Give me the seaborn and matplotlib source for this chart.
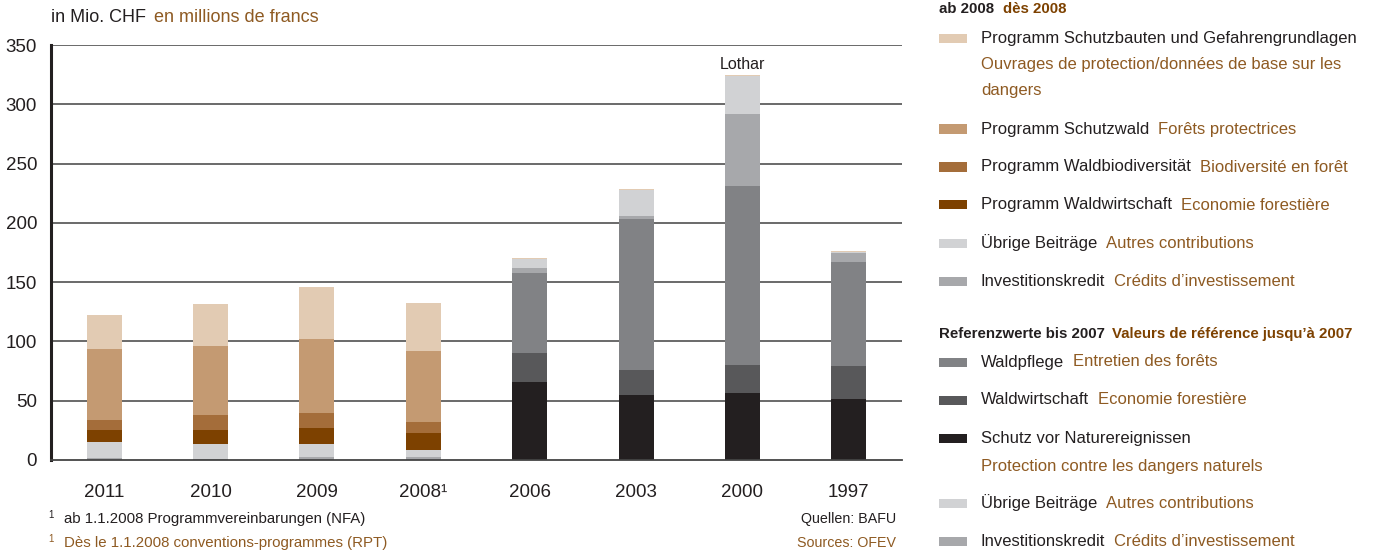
import matplotlib

matplotlib.use("Agg")
import matplotlib.pyplot as plt
import numpy as np
import pandas as pd
import seaborn as sns
from matplotlib.patches import Rectangle

# Daten (Mio. CHF), Stapelreihenfolge von unten nach oben
jahre = ["2011", "2010", "2009", "2008¹", "2006", "2003", "2000", "1997"]

schutz_naturereignisse = [0, 0, 0, 0, 65.8, 54.8, 56.5, 51.4]
waldwirtschaft_alt = [0, 0, 0, 0, 24.4, 21.1, 23.6, 27.9]
waldpflege = [0, 0, 0, 0, 67.5, 127.3, 150.9, 87.6]
investitionskredit = [1.7, 0.5, 2.5, 2.5, 4.2, 2.8, 60.7, 7.9]
uebrige_beitraege = [13.5, 13.0, 11.0, 5.9, 7.3, 21.4, 31.8, 0.8]
prog_waldwirtschaft = [10.1, 11.8, 13.5, 14.4, 0, 0, 0, 0]
prog_biodiversitaet = [8.4, 12.6, 12.6, 9.2, 0, 0, 0, 0]
prog_schutzwald = [59.9, 58.2, 62.4, 59.9, 0, 0, 0, 0]
prog_schutzbauten = [28.7, 35.4, 43.9, 40.5, 0.9, 0.9, 0.9, 0.9]

DUNKEL = "#231F20"
BRAUN = "#8E5A22"
BRAUN_FETT = "#7D4100"

FARBEN = {
    "schutz": "#231F20",
    "ww_alt": "#58585A",
    "pflege": "#818285",
    "invest": "#A7A8AB",
    "uebrig": "#D1D2D4",
    "p_ww": "#7D4100",
    "p_bio": "#A46D3A",
    "p_sw": "#C49A72",
    "p_sb": "#E2CBB3",
}

ebenen = [
    ("schutz", schutz_naturereignisse),
    ("ww_alt", waldwirtschaft_alt),
    ("pflege", waldpflege),
    ("invest", investitionskredit),
    ("uebrig", uebrige_beitraege),
    ("p_ww", prog_waldwirtschaft),
    ("p_bio", prog_biodiversitaet),
    ("p_sw", prog_schutzwald),
    ("p_sb", prog_schutzbauten),
]

sns.set_theme(style="white")
SCHRIFT = ["Liberation Sans Narrow", "Liberation Sans", "DejaVu Sans"]
plt.rcParams["font.family"] = SCHRIFT

W, H = 1384, 555
fig = plt.figure(figsize=(W / 100, H / 100), dpi=100)
ax = fig.add_axes([51 / W, 1 - 460 / H, (902 - 51) / W, (460 - 45) / H])

basis = np.zeros(len(jahre))
for schluessel, werte in ebenen:
    df = pd.DataFrame({"jahr": jahre, "wert": werte})
    sns.barplot(
        data=df, x="jahr", y="wert", order=jahre, color=FARBEN[schluessel],
        saturation=1, width=0.33, errorbar=None, bottom=basis.copy(),
        linewidth=0, ax=ax,
    )
    basis += np.array(werte)

ax.set_xlim(-0.5, 7.5)
ax.set_ylim(0, 350)
ax.set_yticks(range(0, 351, 50))
for y in range(50, 351, 50):
    ax.axhline(y, color="#505050", lw=1.2, zorder=0)
ax.set_axisbelow(True)
for s in ["top", "right"]:
    ax.spines[s].set_visible(False)
ax.spines["left"].set_color(DUNKEL)
ax.spines["left"].set_linewidth(2.2)
ax.spines["bottom"].set_color("#444444")
ax.spines["bottom"].set_linewidth(1.3)
ax.tick_params(axis="y", length=0, pad=10, labelsize=13.5, colors=DUNKEL)
ax.tick_params(axis="x", length=0, pad=17, labelsize=13.5, colors=DUNKEL)
ax.set_xlabel("")
ax.set_ylabel("")

ax.text(6, 327, "Lothar", ha="center", va="bottom", fontsize=11.5, color=DUNKEL)

renderer = fig.canvas.get_renderer()


def zweisprachig(x_px, y_px, de, fr, groesse, fett=False, abstand=9):
    """Deutscher Text dunkel, franzoesischer Text braun direkt dahinter."""
    gewicht = "bold" if fett else "normal"
    t1 = fig.text(x_px / W, 1 - y_px / H, de, fontsize=groesse, color=DUNKEL,
                  weight=gewicht, va="center", ha="left")
    if fr:
        bb = t1.get_window_extent(renderer)
        fig.text((bb.x1 + abstand) / W, 1 - y_px / H, fr, fontsize=groesse,
                 color=BRAUN_FETT if fett else BRAUN, weight=gewicht,
                 va="center", ha="left")


zweisprachig(51, 18, "in Mio. CHF", "en millions de francs", 13, abstand=8)


# Legende
def kaestchen(y_px, farbe):
    fig.add_artist(Rectangle((939 / W, 1 - (y_px + 4.5) / H), 28 / W, 9 / H,
                             transform=fig.transFigure, color=farbe, lw=0))


TX = 981
zweisprachig(939, 9, "ab 2008", "dès 2008", 10.8, fett=True)
kaestchen(38, FARBEN["p_sb"])
zweisprachig(TX, 38, "Programm Schutzbauten und Gefahrengrundlagen", None, 12)
fig.text(TX / W, 1 - 65 / H, "Ouvrages de protection/données de base sur les",
         fontsize=12, color=BRAUN, va="center")
fig.text(TX / W, 1 - 91 / H, "dangers", fontsize=12, color=BRAUN, va="center")
kaestchen(129, FARBEN["p_sw"])
zweisprachig(TX, 129, "Programm Schutzwald", "Forêts protectrices", 12)
kaestchen(167, FARBEN["p_bio"])
zweisprachig(TX, 167, "Programm Waldbiodiversität", "Biodiversité en forêt", 12)
kaestchen(205, FARBEN["p_ww"])
zweisprachig(TX, 205, "Programm Waldwirtschaft", "Economie forestière", 12)
kaestchen(243, FARBEN["uebrig"])
zweisprachig(TX, 243, "Übrige Beiträge", "Autres contributions", 12)
kaestchen(281, FARBEN["invest"])
zweisprachig(TX, 281, "Investitionskredit", "Crédits d’investissement", 12)

zweisprachig(939, 334, "Referenzwerte bis 2007", "Valeurs de référence jusqu’à 2007",
             10.8, fett=True, abstand=7)
kaestchen(362, FARBEN["pflege"])
zweisprachig(TX, 362, "Waldpflege", "Entretien des forêts", 12)
kaestchen(400, FARBEN["ww_alt"])
zweisprachig(TX, 400, "Waldwirtschaft", "Economie forestière", 12)
kaestchen(438, FARBEN["schutz"])
zweisprachig(TX, 438, "Schutz vor Naturereignissen", None, 12)
fig.text(TX / W, 1 - 466 / H, "Protection contre les dangers naturels",
         fontsize=12, color=BRAUN, va="center")
kaestchen(503, FARBEN["uebrig"])
zweisprachig(TX, 503, "Übrige Beiträge", "Autres contributions", 12)
kaestchen(541, FARBEN["invest"])
zweisprachig(TX, 541, "Investitionskredit", "Crédits d’investissement", 12)

# Fussnoten und Quellen
fig.text(48 / W, 1 - 515 / H, "1", fontsize=7, color=DUNKEL, va="center")
fig.text(64 / W, 1 - 519 / H, "ab 1.1.2008 Programmvereinbarungen (NFA)",
         fontsize=10.8, color=DUNKEL, va="center")
fig.text(48 / W, 1 - 539 / H, "1", fontsize=7, color=BRAUN, va="center")
fig.text(64 / W, 1 - 543 / H, "Dès le 1.1.2008 conventions-programmes (RPT)",
         fontsize=10.8, color=BRAUN, va="center")
fig.text(896 / W, 1 - 519 / H, "Quellen: BAFU", fontsize=10.3, color=DUNKEL,
         va="center", ha="right")
fig.text(896 / W, 1 - 543 / H, "Sources: OFEV", fontsize=10.3, color=BRAUN,
         va="center", ha="right")

fig.savefig("out.png", dpi=100, facecolor="white")
